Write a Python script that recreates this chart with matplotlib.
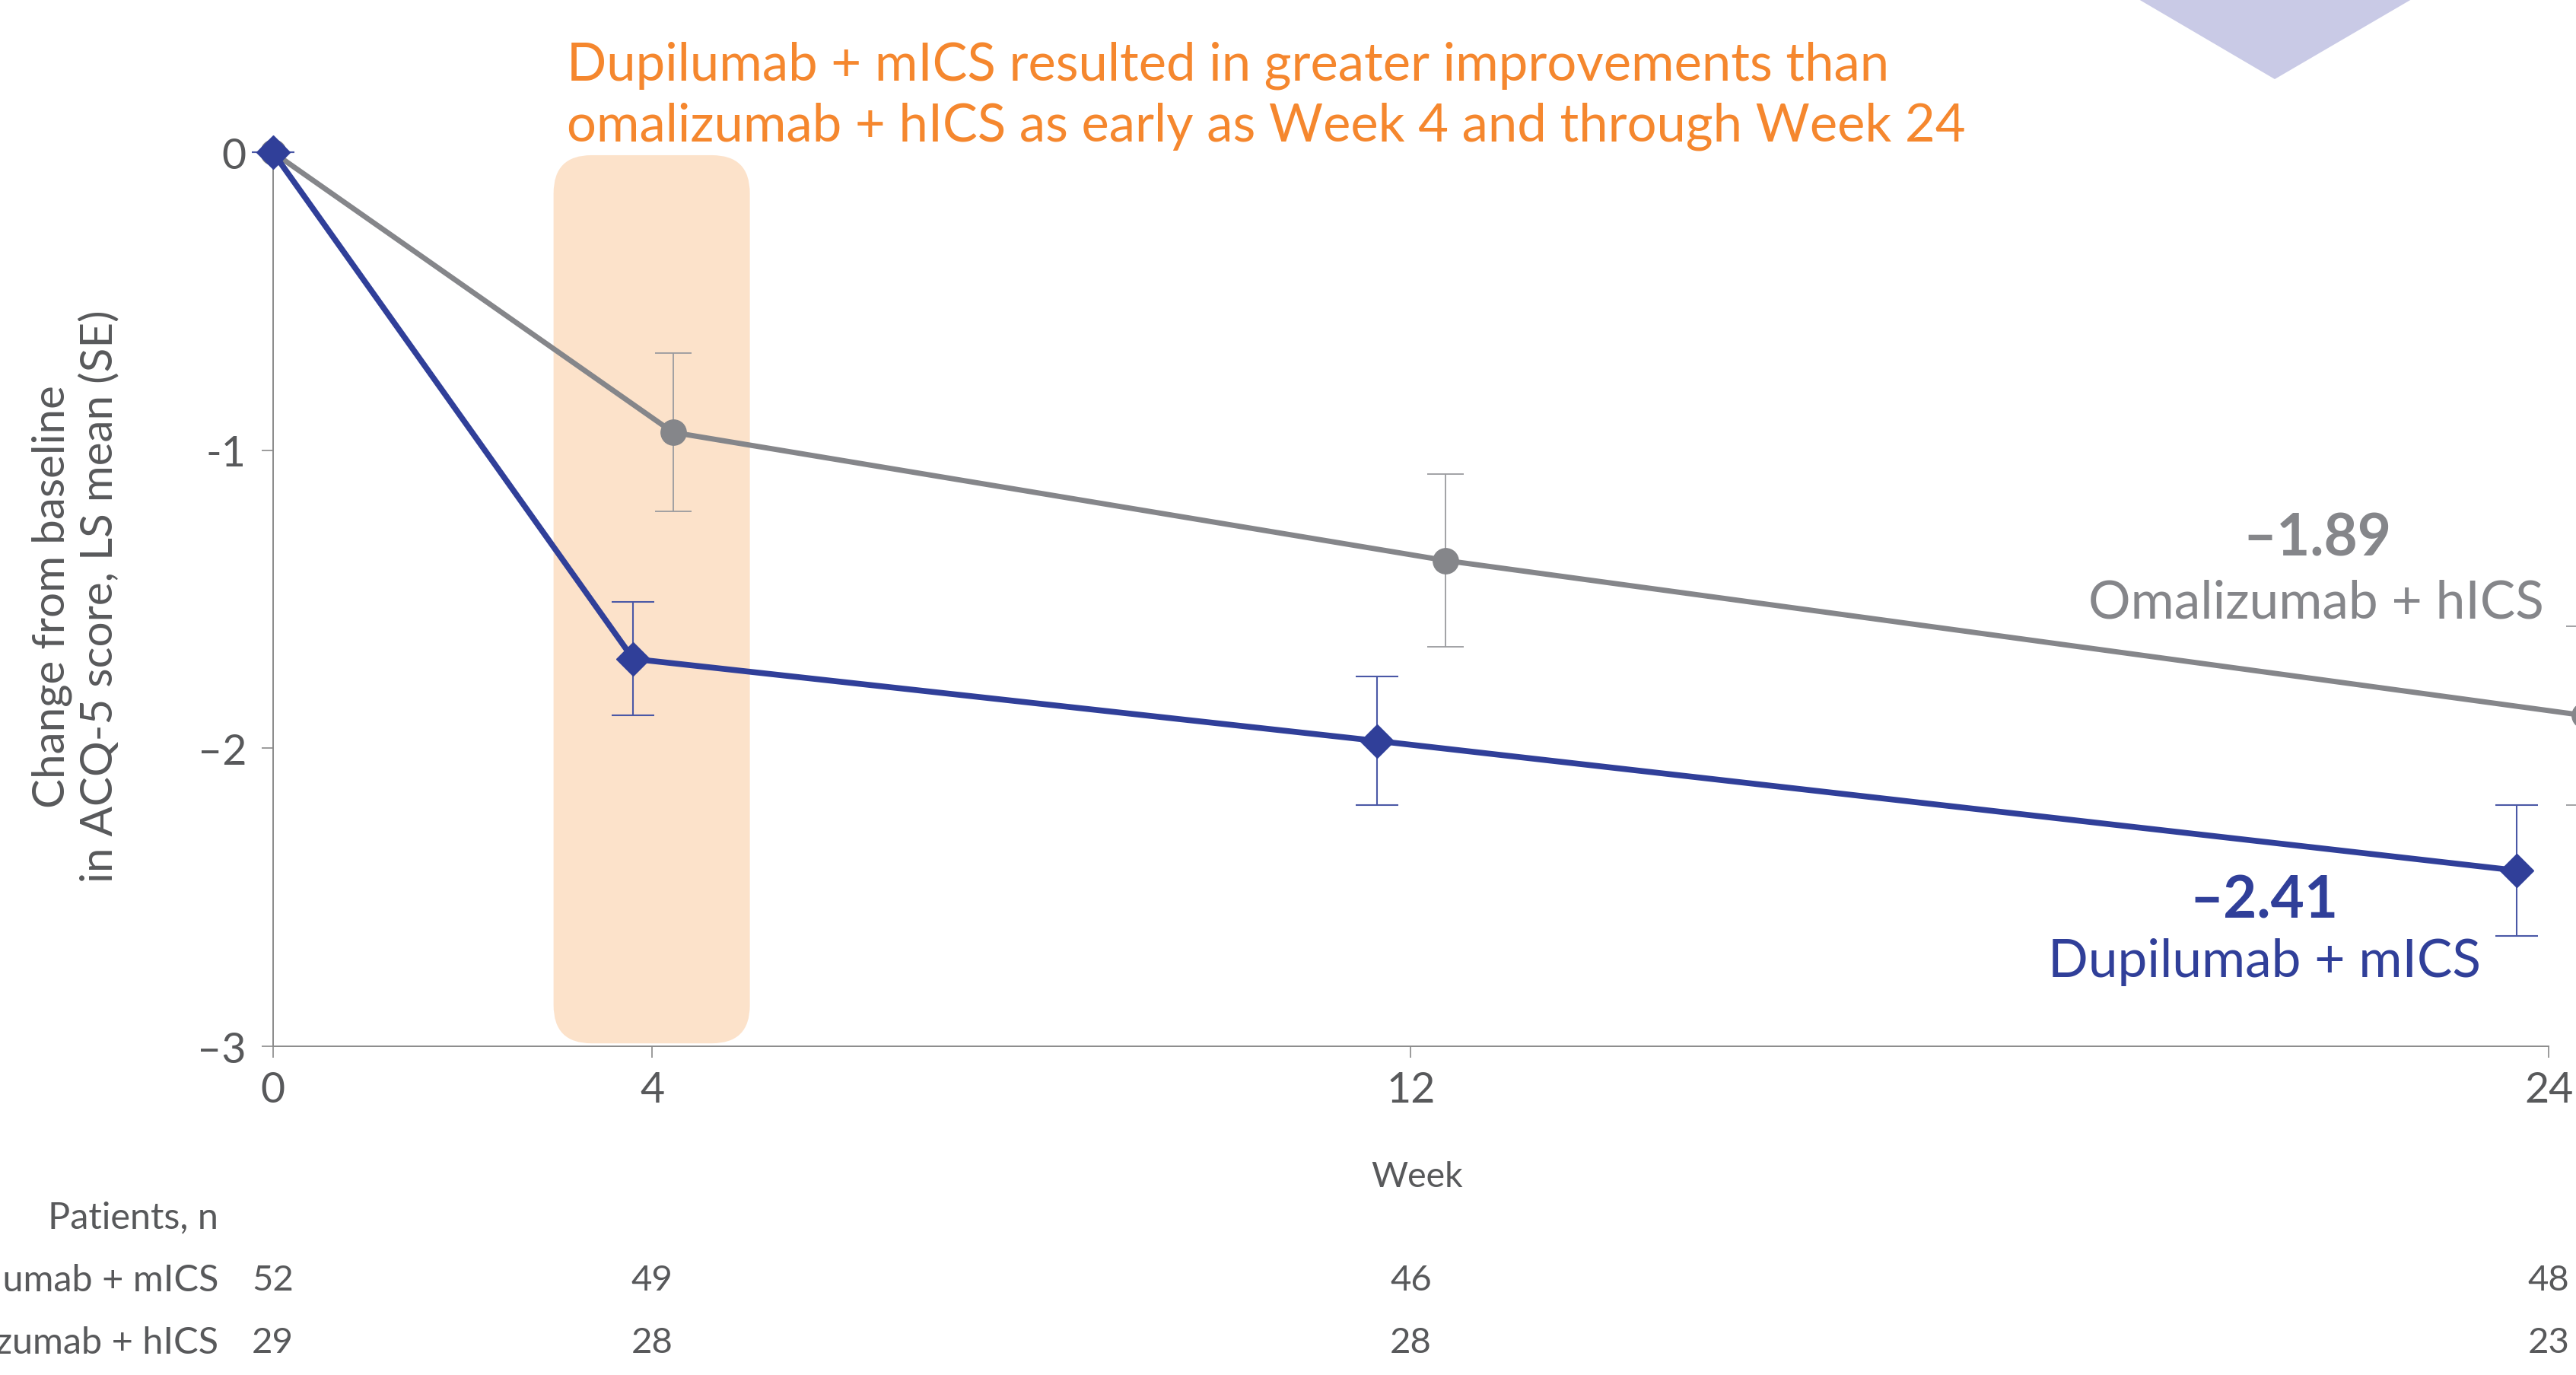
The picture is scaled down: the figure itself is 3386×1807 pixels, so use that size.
import matplotlib
matplotlib.use("Agg")
import matplotlib.pyplot as plt
import matplotlib.transforms as mtransforms
from matplotlib.patches import FancyBboxPatch, Polygon

plt.rcParams["font.family"] = ["Lato", "DejaVu Sans"]

# Data
weeks = [0, 4, 12, 24]
dupi_mean = [0, -1.70, -1.975, -2.41]
dupi_se = [0, 0.19, 0.215, 0.22]
oma_mean = [0, -0.94, -1.37, -1.89]
oma_se = [0, 0.265, 0.29, 0.30]
dupi_n = [52, 49, 46, 48]
oma_n = [29, 28, 28, 23]

y_ticks = [0, -1, -2, -3]
y_tick_labels = ["0", "-1", "\u20132", "\u20133"]
title_lines = [
    "Dupilumab + mICS resulted in greater improvements than",
    "omalizumab + hICS as early as Week 4 and through Week 24",
]
dupi_label = "Dupilumab + mICS"
oma_label = "Omalizumab + hICS"

# small horizontal dodge so the two series don't overlap
dupi_dodge = [0, -0.2, -0.36, -0.34]
oma_dodge = [0, 0.22, 0.37, 0.38]

BLUE = "#303F99"
GRAY = "#85868A"
ORANGE = "#F5872E"
TEXT = "#58595B"
AXIS = "#8A8A8A"

fig = plt.figure(figsize=(33.87, 18.08), dpi=100)
ax = fig.add_axes([0.1059, 0.2389, 0.8832, 0.6499])
ax.set_xlim(0, 24)
ax.set_ylim(-3, 0)

# highlighted Week 4 window
hl = FancyBboxPatch((2.96, -2.99), 2.07, 2.98,
                    boxstyle="round,pad=0,rounding_size=0.4",
                    mutation_aspect=0.319, facecolor="#FCE2CA",
                    edgecolor="none", zorder=0)
ax.add_patch(hl)

dupi_x = [w + d for w, d in zip(weeks, dupi_dodge)]
oma_x = [w + d for w, d in zip(weeks, oma_dodge)]

ax.errorbar(oma_x, oma_mean, yerr=oma_se, color=GRAY, lw=5, marker="o",
            ms=24, elinewidth=1.3, capsize=17, capthick=1.3,
            ecolor="#9A9B9E", zorder=3, clip_on=False)
ax.errorbar(dupi_x, dupi_mean, yerr=dupi_se, color=BLUE, lw=5.5, marker="D",
            ms=22, elinewidth=1.5, capsize=20, capthick=1.5,
            ecolor="#4A58A6", zorder=4, clip_on=False)

for sp in ["top", "right"]:
    ax.spines[sp].set_visible(False)
for sp in ["left", "bottom"]:
    ax.spines[sp].set_color(AXIS)
    ax.spines[sp].set_linewidth(1.4)

ax.set_xticks(weeks)
ax.set_xticklabels([str(w) for w in weeks])
ax.set_yticks(y_ticks)
ax.set_yticklabels(y_tick_labels)
ax.tick_params(axis="x", length=11, width=1.2, color=AXIS, pad=12,
               labelsize=40, labelcolor=TEXT)
ax.tick_params(axis="y", length=11, width=1.2, color=AXIS, pad=14,
               labelsize=40, labelcolor=TEXT)

# end-of-line annotations
ax.text(21.56, -1.296, "\u20131.89", color=GRAY, fontsize=55,
        fontweight="bold", ha="center", va="center")
ax.text(21.55, -1.511, oma_label, color=GRAY, fontsize=50,
        ha="center", va="center")
ax.text(21.0, -2.51, "\u20132.41", color=BLUE, fontsize=55,
        fontweight="bold", ha="center", va="center")
ax.text(21.0, -2.714, dupi_label, color=BLUE, fontsize=50,
        ha="center", va="center")

# title text
fig.text(0.220, 0.9522, title_lines[0], color=ORANGE, fontsize=49.5,
         ha="left", va="center")
fig.text(0.220, 0.9080, title_lines[1], color=ORANGE, fontsize=49.5,
         ha="left", va="center")

fig.text(0.0294, 0.5664, "Change from baseline\nin ACQ-5 score, LS mean (SE)",
         rotation=90, ha="center", va="center", multialignment="center",
         fontsize=42, color=TEXT, linespacing=1.2)

fig.text(0.5498, 0.1444, "Week", fontsize=33.5, color=TEXT,
         ha="center", va="center")

# patients at risk table
trans = mtransforms.blended_transform_factory(ax.transData, fig.transFigure)
fig.text(0.0848, 0.1147, "Patients, n", fontsize=35, color=TEXT,
         ha="right", va="center")
fig.text(0.0848, 0.0693, dupi_label, fontsize=35, color=TEXT,
         ha="right", va="center")
fig.text(0.0848, 0.0239, oma_label, fontsize=35, color=TEXT,
         ha="right", va="center")
for w, n1, n2 in zip(weeks, dupi_n, oma_n):
    ax.text(w, 0.0693, str(n1), transform=trans, fontsize=34, color=TEXT,
            ha="center", va="center", clip_on=False)
    ax.text(w, 0.0239, str(n2), transform=trans, fontsize=34, color=TEXT,
            ha="center", va="center", clip_on=False)

# purple arrow tip at top right
tri = Polygon([[2811 / 3387, 1.0], [3170 / 3387, 1.0], [2990 / 3387, 1 - 105 / 1808]],
              closed=True, facecolor="#C9CAE6", edgecolor="none",
              transform=fig.transFigure)
fig.patches.append(tri)

fig.savefig("out.png", dpi=100)
